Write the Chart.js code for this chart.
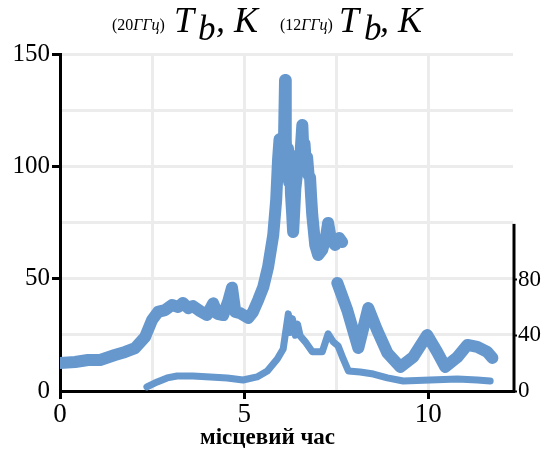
<!DOCTYPE html>
<html>
<head>
<meta charset="utf-8">
<script src="https://cdn.jsdelivr.net/npm/chart.js@4.4.1/dist/chart.umd.min.js"></script>
<style>
html,body{margin:0;padding:0;background:#fff;}
#wrap{position:relative;width:545px;height:454px;overflow:hidden;}
#c{position:absolute;left:0;top:0;}
.t{position:absolute;font-family:'Liberation Serif','Times New Roman',serif;line-height:1;white-space:nowrap;color:#000;}
.big{font-size:36px;font-style:italic;}
.sm{font-size:16px;}
.sub{font-size:35px;font-style:italic;}
.xl{font-size:23px;font-weight:bold;}
</style>
</head>
<body>
<div id="wrap">
<canvas id="c" width="545" height="454"></canvas>
<span class="t sm" style="left:112px;top:17px;">(20<i>ГГц</i>)</span>
<span class="t big" style="left:174px;top:2px;">T</span>
<span class="t sub" style="left:198px;top:11px;">b</span>
<span class="t big" style="left:216px;top:2px;">, K</span>
<span class="t sm" style="left:280px;top:17px;">(12<i>ГГц</i>)</span>
<span class="t big" style="left:339px;top:2px;">T</span>
<span class="t sub" style="left:364px;top:11px;">b</span>
<span class="t big" style="left:380px;top:2px;">, K</span>
<span class="t xl" id="xlab" style="left:200px;top:425px;">місцевий час</span>
</div>
<script>
// 20 GHz brightness temperature (left axis, K) vs local time (h)
const hours20 = [0, 0.41, 0.76, 1.09, 1.49, 1.77, 2.04, 2.31, 2.5, 2.66,
  2.85, 3.04, 3.21, 3.34, 3.48, 3.61, 3.80, 3.99, 4.16, 4.27,
  4.43, 4.57, 4.67, 4.76, 4.89, 5.11, 5.24, 5.38, 5.52, 5.65,
  5.79, 5.87, 5.92, 5.96, 6.00, 6.04, 6.08, 6.11, 6.13, 6.16,
  6.19, 6.22, 6.25, 6.27, 6.30, 6.33, 6.36, 6.39, 6.43, 6.47,
  6.52, 6.58, 6.61, 6.64, 6.68, 6.71, 6.75, 6.79, 6.82, 6.85,
  6.93, 7.01, 7.12, 7.23, 7.28, 7.36, 7.47, 7.58, 7.66, 7.6,
  7.53, 7.80, 8.10, 8.37, 8.61, 8.89, 9.24, 9.59, 9.97, 10.24,
  10.46, 10.79, 11.06, 11.33, 11.60, 11.74];
const tb20 = [12.5, 12.9, 13.8, 13.8, 16.0, 17.4, 19.1, 24.0, 31.6, 35.2,
  36.0, 38.3, 37.4, 39.2, 36.9, 37.8, 35.6, 33.8, 39.0, 34.3,
  33.8, 40.0, 46.0, 35.2, 34.7, 32.5, 35.2, 40.5, 46.3, 55.2,
  69.4, 85.0, 102.8, 112, 104, 112, 110, 138.4, 112, 98,
  108, 93, 105, 88, 80, 70.8, 80, 90, 96, 100,
  103, 118.4, 106, 110, 100, 104, 96, 95, 86, 78.3,
  65.0, 60.5, 62.8, 69.4, 74.8, 67.2, 65.0, 68.1, 66.3, null,
  48.1, 36.0, 19.1, 36.9, 27.1, 16.9, 10.7, 15.1, 24.9, 17.4,
  10.7, 15.1, 20.5, 19.6, 17.4, 14.7];
// 12 GHz brightness temperature (right axis, K)
const hours12 = [2.36, 2.64, 2.91, 3.18, 3.61, 4.08, 4.54, 4.97, 5.35, 5.63,
  5.90, 6.06, 6.20, 6.25, 6.31, 6.39, 6.45, 6.52, 6.66, 6.85,
  7.12, 7.28, 7.42, 7.55, 7.69, 7.83, 8.15, 8.51, 8.89, 9.32,
  10.05, 10.79, 11.33, 11.68];
const tb12 = [2.9, 6.5, 9.4, 10.8, 10.8, 10.1, 9.4, 7.9, 10.1, 14.4,
  23.0, 30.2, 55.4, 42, 52, 40, 48, 39.6, 35.3, 28.1,
  28.1, 41.0, 35.3, 32.4, 23.0, 14.4, 13.7, 12.2, 9.4, 7.2,
  7.9, 8.6, 7.9, 7.2];
// axes
const xTicks = [0, 2.5, 5, 7.5, 10];
const xLabels = [0, 5, 10];
const yTicks = [0, 25, 50, 75, 100, 125, 150];
const yLabels = [0, 50, 100, 150];
const y1Ticks = [0, 40, 80];
const y1AxisTop = 120;

const lineColor = 'rgb(102,152,206)';
const gridColor = '#ececec';
const serif = "'Liberation Serif', 'Times New Roman', serif";

const partialAxis = {
  id: 'partialAxis',
  afterDraw(chart) {
    const s = chart.scales.y1, ctx = chart.ctx;
    ctx.save();
    ctx.strokeStyle = '#000';
    ctx.lineWidth = 3;
    ctx.beginPath();
    ctx.moveTo(s.left + 1, s.getPixelForValue(0) + 1.5);
    ctx.lineTo(s.left + 1, s.getPixelForValue(y1AxisTop));
    ctx.stroke();
    ctx.restore();
  }
};

new Chart(document.getElementById('c'), {
  type: 'line',
  data: {
    datasets: [
      {
        label: '20 ГГц',
        data: hours20.map((h, i) => ({x: h, y: tb20[i]})),
        yAxisID: 'y',
        borderColor: lineColor,
        borderWidth: 12,
        borderJoinStyle: 'round',
        borderCapStyle: 'round',
        pointRadius: 0,
        tension: 0,
        spanGaps: false
      },
      {
        label: '12 ГГц',
        data: hours12.map((h, i) => ({x: h, y: tb12[i]})),
        yAxisID: 'y1',
        borderColor: lineColor,
        borderWidth: 7,
        borderJoinStyle: 'round',
        borderCapStyle: 'round',
        pointRadius: 0,
        tension: 0
      }
    ]
  },
  options: {
    responsive: false,
    animation: false,
    devicePixelRatio: 1,
    layout: {padding: {top: 54, left: 0, right: 0, bottom: 0}},
    plugins: {legend: {display: false}, tooltip: {enabled: false}, title: {display: false}},
    scales: {
      x: {
        type: 'linear',
        min: 0, max: 12.3,
        afterBuildTicks: s => { s.ticks = xTicks.map(v => ({value: v})); },
        afterFit: s => { s.height = 63; },
        grid: {
          color: gridColor, lineWidth: 3, tickLength: 8, tickWidth: 3,
          tickColor: ctx => (ctx.tick && xLabels.includes(ctx.tick.value)) ? '#000' : 'rgba(0,0,0,0)'
        },
        border: {color: '#000', width: 3},
        ticks: {
          autoSkip: false, maxRotation: 0, padding: 0, color: '#000',
          font: {family: serif, size: 27},
          callback: v => xLabels.includes(v) ? String(v) : ''
        }
      },
      y: {
        position: 'left',
        min: 0, max: 150,
        afterBuildTicks: s => { s.ticks = yTicks.map(v => ({value: v})); },
        afterFit: s => { s.width = 60; },
        grid: {
          color: gridColor, lineWidth: 3, tickLength: 8, tickWidth: 3,
          tickColor: ctx => (ctx.tick && yLabels.includes(ctx.tick.value) && ctx.tick.value !== 0) ? '#000' : 'rgba(0,0,0,0)'
        },
        border: {color: '#000', width: 3},
        ticks: {
          autoSkip: false, padding: 2, color: '#000',
          font: {family: serif, size: 25},
          callback: v => yLabels.includes(v) ? String(v) : ''
        }
      },
      y1: {
        position: 'right',
        min: 0, max: 242,
        afterBuildTicks: s => { s.ticks = y1Ticks.map(v => ({value: v})); },
        afterFit: s => { s.width = 32; },
        grid: {drawOnChartArea: false, tickLength: 4, tickWidth: 2, tickColor: '#000'},
        border: {display: false},
        ticks: {
          autoSkip: false, padding: 1, color: '#000',
          font: {family: serif, size: 23}
        }
      }
    }
  },
  plugins: [partialAxis]
});
</script>
</body>
</html>
